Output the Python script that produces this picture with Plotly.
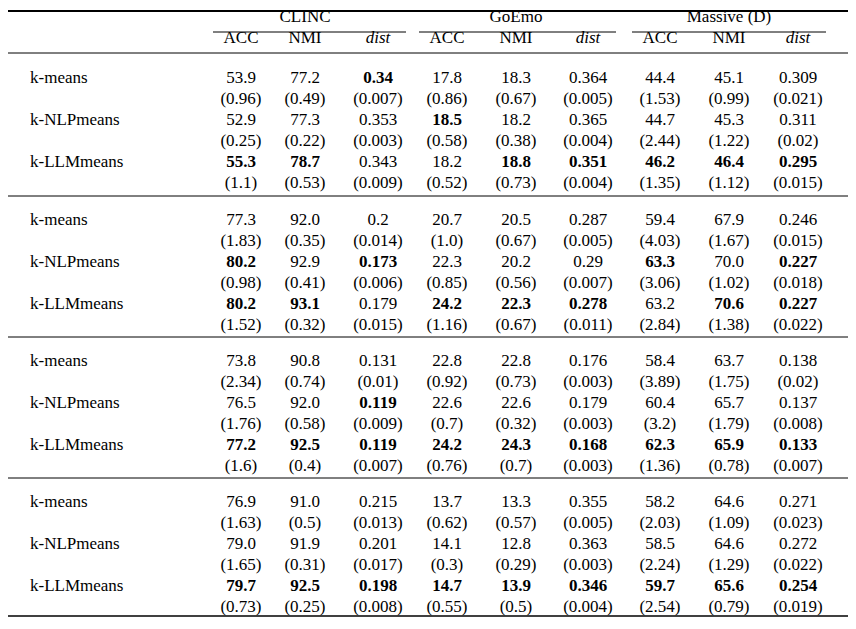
import plotly.graph_objects as go

# table data
datasets = ["CLINC", "GoEmo", "Massive (D)"]
metrics = ["ACC", "NMI", "<i>dist</i>"]
embeddings = ["DistilBERT", "text-embedding-3-small", "e5-large", "S-BERT"]
methods = ["k-means", "k-NLPmeans", "k-LLMmeans"]

means = [
    [["53.9", "77.2", "0.34", "17.8", "18.3", "0.364", "44.4", "45.1", "0.309"],
     ["52.9", "77.3", "0.353", "18.5", "18.2", "0.365", "44.7", "45.3", "0.311"],
     ["55.3", "78.7", "0.343", "18.2", "18.8", "0.351", "46.2", "46.4", "0.295"]],
    [["77.3", "92.0", "0.2", "20.7", "20.5", "0.287", "59.4", "67.9", "0.246"],
     ["80.2", "92.9", "0.173", "22.3", "20.2", "0.29", "63.3", "70.0", "0.227"],
     ["80.2", "93.1", "0.179", "24.2", "22.3", "0.278", "63.2", "70.6", "0.227"]],
    [["73.8", "90.8", "0.131", "22.8", "22.8", "0.176", "58.4", "63.7", "0.138"],
     ["76.5", "92.0", "0.119", "22.6", "22.6", "0.179", "60.4", "65.7", "0.137"],
     ["77.2", "92.5", "0.119", "24.2", "24.3", "0.168", "62.3", "65.9", "0.133"]],
    [["76.9", "91.0", "0.215", "13.7", "13.3", "0.355", "58.2", "64.6", "0.271"],
     ["79.0", "91.9", "0.201", "14.1", "12.8", "0.363", "58.5", "64.6", "0.272"],
     ["79.7", "92.5", "0.198", "14.7", "13.9", "0.346", "59.7", "65.6", "0.254"]],
]
stds = [
    [["0.96", "0.49", "0.007", "0.86", "0.67", "0.005", "1.53", "0.99", "0.021"],
     ["0.25", "0.22", "0.003", "0.58", "0.38", "0.004", "2.44", "1.22", "0.02"],
     ["1.1", "0.53", "0.009", "0.52", "0.73", "0.004", "1.35", "1.12", "0.015"]],
    [["1.83", "0.35", "0.014", "1.0", "0.67", "0.005", "4.03", "1.67", "0.015"],
     ["0.98", "0.41", "0.006", "0.85", "0.56", "0.007", "3.06", "1.02", "0.018"],
     ["1.52", "0.32", "0.015", "1.16", "0.67", "0.011", "2.84", "1.38", "0.022"]],
    [["2.34", "0.74", "0.01", "0.92", "0.73", "0.003", "3.89", "1.75", "0.02"],
     ["1.76", "0.58", "0.009", "0.7", "0.32", "0.003", "3.2", "1.79", "0.008"],
     ["1.6", "0.4", "0.007", "0.76", "0.7", "0.003", "1.36", "0.78", "0.007"]],
    [["1.63", "0.5", "0.013", "0.62", "0.57", "0.005", "2.03", "1.09", "0.023"],
     ["1.65", "0.31", "0.017", "0.3", "0.29", "0.003", "2.24", "1.29", "0.022"],
     ["0.73", "0.25", "0.008", "0.55", "0.5", "0.004", "2.54", "0.79", "0.019"]],
]
# 1 = best result (bold)
best = [
    [[0, 0, 1, 0, 0, 0, 0, 0, 0],
     [0, 0, 0, 1, 0, 0, 0, 0, 0],
     [1, 1, 0, 0, 1, 1, 1, 1, 1]],
    [[0, 0, 0, 0, 0, 0, 0, 0, 0],
     [1, 0, 1, 0, 0, 0, 1, 0, 1],
     [1, 1, 0, 1, 1, 1, 0, 1, 1]],
    [[0, 0, 0, 0, 0, 0, 0, 0, 0],
     [0, 0, 1, 0, 0, 0, 0, 0, 0],
     [1, 1, 1, 1, 1, 1, 1, 1, 1]],
    [[0, 0, 0, 0, 0, 0, 0, 0, 0],
     [0, 0, 0, 0, 0, 0, 0, 0, 0],
     [1, 1, 1, 1, 1, 1, 1, 1, 1]],
]

# layout in pixel space
W, H = 856, 629
col_x = [233, 297, 370, 439, 508, 580, 652, 721, 790]
group_top = [50, 192, 333, 474]
row_step = 20.9
FONT = "Liberation Serif"
FS = 17

cx, cy, ct = [], [], []
lx, ly, lt = [], [], []

# header
for d, name in enumerate(datasets):
    cx.append(col_x[3 * d + 1]); cy.append(10); ct.append(name)
    for m, met in enumerate(metrics):
        cx.append(col_x[3 * d + m]); cy.append(31); ct.append(met)
lx += [-4, -4]; ly += [10, 31]; lt += ["Dataset", "<i>embedding</i>/Method"]

for g, emb in enumerate(embeddings):
    y0 = group_top[g]
    lx.append(-4); ly.append(y0); lt.append("<i>" + emb + "</i>")
    for r, meth in enumerate(methods):
        ym = y0 + (2 * r + 1) * row_step
        ys = ym + row_step
        lx.append(22); ly.append(ym); lt.append(meth)
        for c in range(9):
            v = means[g][r][c]
            cx.append(col_x[c]); cy.append(ym)
            ct.append("<b>" + v + "</b>" if best[g][r][c] else v)
            cx.append(col_x[c]); cy.append(ys); ct.append("(" + stds[g][r][c] + ")")

fig = go.Figure()
fig.add_trace(go.Scatter(x=cx, y=cy, text=ct, mode="text", textposition="middle center",
                         cliponaxis=False,
                         textfont=dict(family=FONT, size=FS, color="black"), hoverinfo="skip"))
fig.add_trace(go.Scatter(x=lx, y=ly, text=lt, mode="text", textposition="middle right",
                         cliponaxis=False,
                         textfont=dict(family=FONT, size=FS, color="black"), hoverinfo="skip"))

shapes = []
def hline(x0, x1, y, w):
    shapes.append(dict(type="line", x0=x0, x1=x1, y0=y, y1=y, line=dict(color="black", width=w)))

hline(0, 840, 3, 2)
for d in range(3):
    hline(col_x[3 * d] - 28, col_x[3 * d + 2] + 28, 24, 1)
hline(0, 840, 45, 1)
for y in [188, 329, 470]:
    hline(0, 840, y, 1)
hline(0, 840, 608, 1.5)

fig.update_layout(
    width=W, height=H, margin=dict(l=0, r=0, t=0, b=0),
    plot_bgcolor="white", paper_bgcolor="white", showlegend=False, shapes=shapes,
    xaxis=dict(range=[0, W], visible=False, fixedrange=True),
    yaxis=dict(range=[H, 0], visible=False, fixedrange=True),
)
fig.write_html("out.html")
